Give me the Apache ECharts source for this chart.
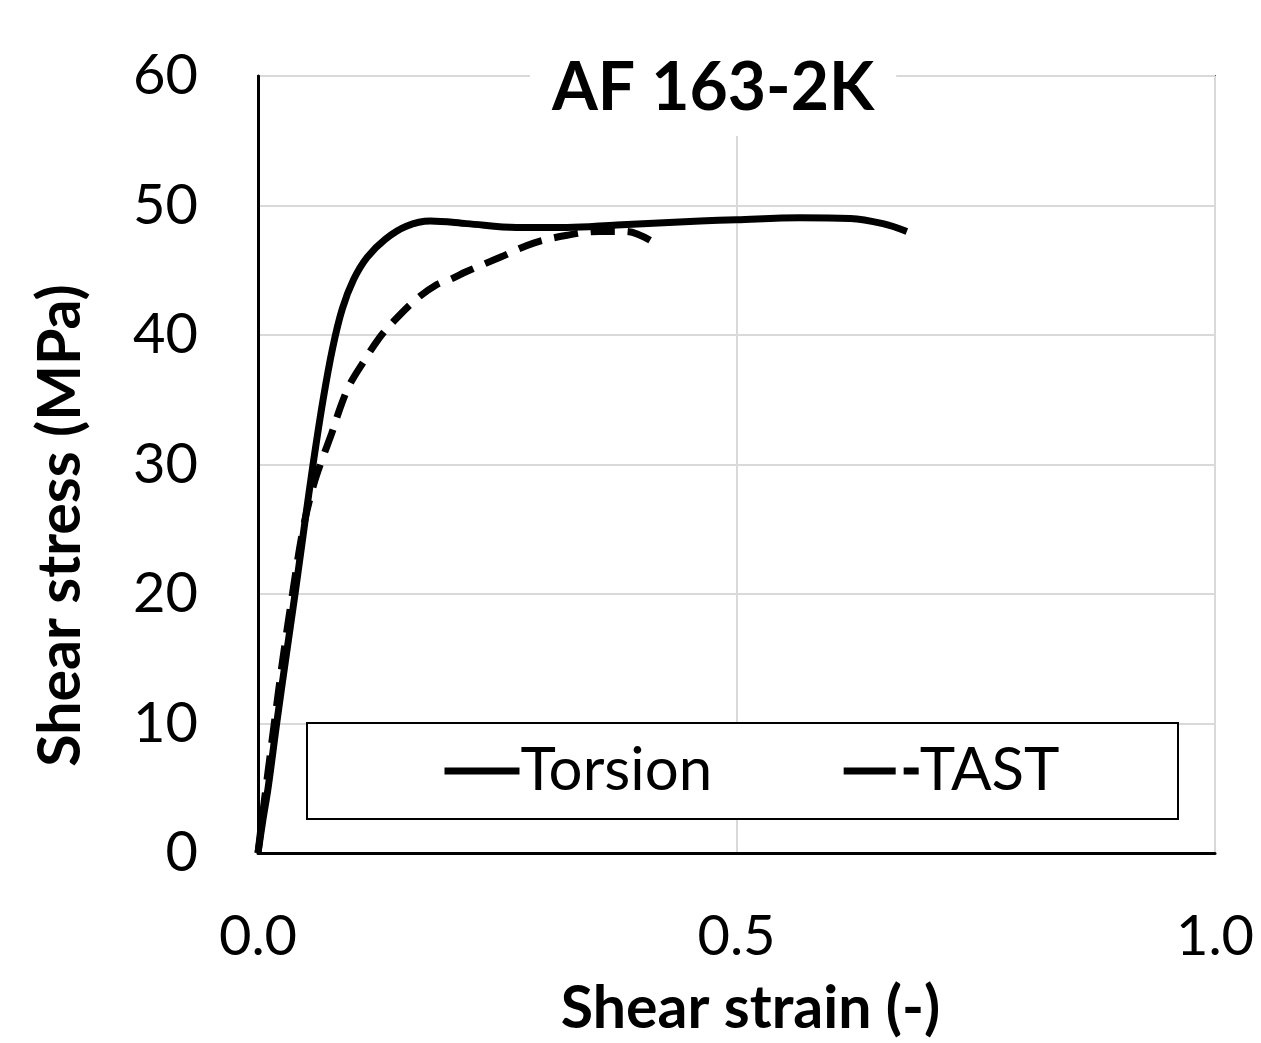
<!DOCTYPE html>
<html>
<head>
<meta charset="utf-8">
<script src="https://cdn.jsdelivr.net/npm/echarts@6/dist/echarts.min.js"></script>
<style>
  html, body { margin: 0; padding: 0; background: #fff; }
  #chart { width: 1261px; height: 1043px; }
</style>
</head>
<body>
<div id="chart"></div>
<script>
// ---- Data ----
const titleText = 'AF 163-2K';
const xName = 'Shear strain (-)';
const yName = 'Shear stress (MPa)';
const seriesNames = ['Torsion', 'TAST'];

// [shear strain, shear stress MPa]
const torsion = [
  [0, 0], [0.005, 2.5], [0.0105, 5], [0.0195, 10], [0.029, 15], [0.0387, 20],
  [0.048, 25], [0.0575, 30], [0.068, 35], [0.078, 39], [0.088, 42],
  [0.100, 44.3], [0.114, 46.0], [0.133, 47.4], [0.155, 48.4], [0.18, 48.8],
  [0.218, 48.6], [0.27, 48.3], [0.323, 48.3], [0.375, 48.5], [0.462, 48.8],
  [0.5, 48.9], [0.566, 49.05], [0.619, 49.0], [0.653, 48.6], [0.678, 48.0]
];
const tast = [
  [0, 0], [0.004, 2.5], [0.01, 6], [0.017, 10], [0.026, 15], [0.036, 20],
  [0.047, 25], [0.058, 28.4], [0.068, 30.6], [0.077, 32.4], [0.086, 34.4],
  [0.096, 36.2], [0.110, 37.9], [0.127, 39.8], [0.141, 41.0], [0.166, 42.8],
  [0.187, 43.9], [0.201, 44.3], [0.218, 44.9], [0.253, 46.0], [0.288, 47.1],
  [0.323, 47.7], [0.357, 48.0], [0.385, 48.0], [0.41, 47.3]
];

const xTicks = { min: 0, max: 1, interval: 0.5 };
const yTicks = { min: 0, max: 60, interval: 10 };

const FONT = 'Lato, "Open Sans", sans-serif';

const chart = echarts.init(document.getElementById('chart'), null, { renderer: 'canvas' });
chart.setOption({
  backgroundColor: '#ffffff',
  animation: false,
  title: {
    text: titleText,
    left: 530,
    top: 52,
    padding: [4, 22, 14, 22],
    backgroundColor: '#ffffff',
    textStyle: { fontFamily: FONT, fontWeight: 'bold', fontSize: 66, color: '#000' }
  },
  grid: {
    left: 258, right: 46, top: 76, bottom: 186,
    show: true, borderColor: '#595959', borderWidth: 2, backgroundColor: 'transparent'
  },
  graphic: [{
    type: 'rect',
    z: 3,
    shape: { x: 307, y: 723, width: 871, height: 96 },
    style: { fill: '#ffffff', stroke: '#000000', lineWidth: 2 }
  }],
  legend: {
    z: 10,
    left: 441,
    top: 741,
    padding: 0,
    itemWidth: 75,
    itemHeight: 14,
    itemGap: 128,
    itemStyle: { color: '#000', borderWidth: 0, opacity: 0 },
    textStyle: { fontFamily: FONT, fontSize: 60, color: '#000', padding: [0, 0, 0, -4] },
    data: [
      { name: seriesNames[0], lineStyle: { width: 7, type: 'solid', color: '#000' } },
      { name: seriesNames[1], lineStyle: { width: 7, type: [52, 8], color: '#000' } }
    ]
  },
  xAxis: {
    type: 'value',
    min: xTicks.min, max: xTicks.max, interval: xTicks.interval,
    name: xName,
    nameLocation: 'middle',
    nameGap: 126,
    nameTextStyle: { fontFamily: FONT, fontWeight: 'bold', fontSize: 59, color: '#000', padding: [0, 0, 0, 28] },
    axisLine: { show: true, lineStyle: { color: '#000', width: 3 } },
    axisTick: { show: false },
    axisLabel: {
      margin: 56, fontFamily: FONT, fontSize: 56, color: '#000',
      formatter: v => v.toFixed(1)
    },
    splitLine: { show: true, lineStyle: { color: '#d9d9d9', width: 2 } }
  },
  yAxis: {
    type: 'value',
    min: yTicks.min, max: yTicks.max, interval: yTicks.interval,
    name: yName,
    nameLocation: 'middle',
    nameRotate: 90,
    nameGap: 168,
    nameTextStyle: { fontFamily: FONT, fontWeight: 'bold', fontSize: 59, color: '#000', padding: [0, 122, 0, 0] },
    axisLine: { show: true, lineStyle: { color: '#000', width: 3 } },
    axisTick: { show: false },
    axisLabel: { margin: 60, fontFamily: FONT, fontSize: 56, color: '#000', padding: [5, 0, 0, 0] },
    splitLine: { show: true, lineStyle: { color: '#d9d9d9', width: 2 } }
  },
  series: [
    {
      name: seriesNames[0], type: 'line', data: torsion, symbol: 'none',
      smooth: 0.35, z: 2,
      itemStyle: { color: '#000' },
      lineStyle: { color: '#000', width: 7, type: 'solid' }
    },
    {
      name: seriesNames[1], type: 'line', data: tast, symbol: 'none',
      smooth: 0.35, z: 2,
      itemStyle: { color: '#000' },
      lineStyle: { color: '#000', width: 7, type: [24, 13] }
    }
  ]
});
</script>
</body>
</html>
